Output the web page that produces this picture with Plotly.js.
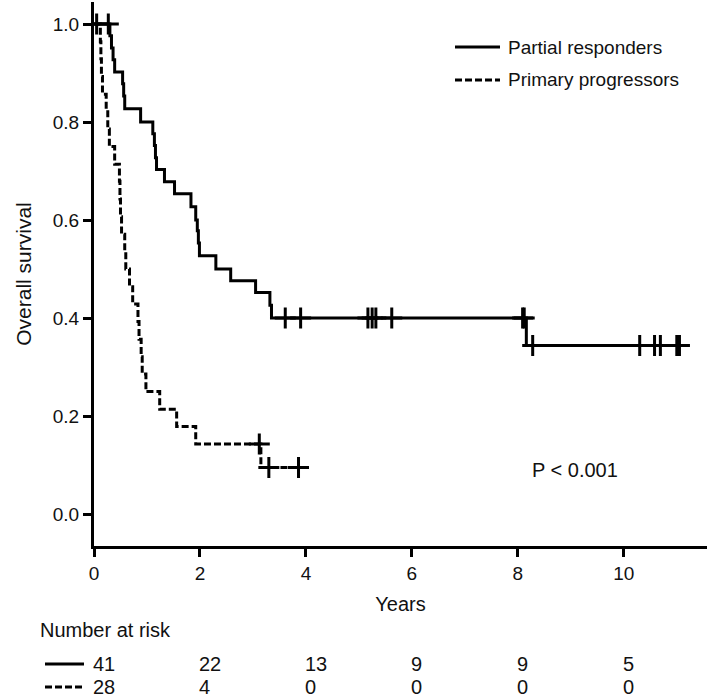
<!DOCTYPE html>
<html>
<head>
<meta charset="utf-8">
<script src="https://cdn.plot.ly/plotly-3.0.1.min.js"></script>
<style>html,body{margin:0;padding:0;background:#fff;}#chart{width:709px;height:698px;}</style>
</head>
<body>
<div id="chart"></div>
<script>
// Partial responders: step times (years) and survival after each step
const prTimes = [0, 0.30, 0.33, 0.36, 0.39, 0.54, 0.56, 0.58, 0.88, 1.11, 1.14, 1.16, 1.18, 1.33, 1.52, 1.83, 1.92, 1.95, 1.97, 1.99, 2.30, 2.58, 3.05, 3.32, 3.35, 8.16, 11.05];
const prSurv  = [1.0, 0.976, 0.951, 0.927, 0.902, 0.878, 0.853, 0.827, 0.800, 0.776, 0.752, 0.727, 0.703, 0.678, 0.654, 0.627, 0.600, 0.578, 0.553, 0.527, 0.500, 0.476, 0.452, 0.426, 0.400, 0.344, 0.344];
const prCensTimes = [0.05, 0.27, 3.61, 3.90, 5.17, 5.25, 5.32, 5.62, 8.09, 8.12, 8.28, 10.30, 10.58, 10.69, 11.00, 11.05];
const prCensSurv  = [1.0, 1.0, 0.400, 0.400, 0.400, 0.400, 0.400, 0.400, 0.400, 0.400, 0.344, 0.344, 0.344, 0.344, 0.344, 0.344];

// Primary progressors
const ppTimes = [0, 0.12, 0.13, 0.14, 0.16, 0.23, 0.26, 0.29, 0.39, 0.48, 0.49, 0.50, 0.52, 0.58, 0.60, 0.67, 0.73, 0.83, 0.85, 0.89, 0.91, 0.98, 1.24, 1.56, 1.92, 3.15, 3.86];
const ppSurv  = [1.0, 0.964, 0.929, 0.893, 0.857, 0.821, 0.786, 0.750, 0.714, 0.679, 0.643, 0.607, 0.571, 0.536, 0.500, 0.464, 0.429, 0.393, 0.357, 0.321, 0.286, 0.250, 0.214, 0.179, 0.143, 0.095, 0.095];
const ppCensTimes = [3.12, 3.30, 3.86];
const ppCensSurv  = [0.143, 0.095, 0.095];

// Number at risk
const riskTimes = [0, 2, 4, 6, 8, 10];
const riskPR = [41, 22, 13, 9, 9, 5];
const riskPP = [28, 4, 0, 0, 0, 0];

const seriesNames = ['Partial responders', 'Primary progressors'];
const yTicks = [0, 0.2, 0.4, 0.6, 0.8, 1.0];
const xTicks = [0, 2, 4, 6, 8, 10];

const FONT = 'Liberation Sans, Arial, sans-serif';
const TXT = '#111';
const DASH = '7px,3px';

const W = 709, H = 698, L = 94, R = 2, T = 2, B = 152;
const plotW = W - L - R, plotH = H - T - B;
function px2paperX(px) { return (px - L) / plotW; }
function px2paperY(py) { return 1 - (py - T) / plotH; }

const censMarker = {symbol: 'cross-thin-open', size: 15, color: '#000', line: {color: '#000', width: 3}};
const traces = [
  {x: prTimes, y: prSurv, mode: 'lines', line: {shape: 'hv', color: '#000', width: 3}, name: seriesNames[0], showlegend: false},
  {x: ppTimes, y: ppSurv, mode: 'lines', line: {shape: 'hv', color: '#000', width: 3, dash: DASH}, name: seriesNames[1], showlegend: false},
  {x: prCensTimes, y: prCensSurv, mode: 'markers', marker: censMarker, showlegend: false, hoverinfo: 'skip'},
  {x: ppCensTimes, y: ppCensSurv, mode: 'markers', marker: censMarker, showlegend: false, hoverinfo: 'skip'}
];

const annotations = [];
const shapes = [];
const rowY = [664, 687];
[riskPR, riskPP].forEach((arr, r) => {
  arr.forEach((v, i) => {
    annotations.push({x: riskTimes[i], xref: 'x', y: px2paperY(rowY[r]), yref: 'paper', text: String(v), showarrow: false, xanchor: 'left', yanchor: 'middle', xshift: -3, font: {family: FONT, size: 20, color: TXT}});
  });
  shapes.push({type: 'line', xref: 'paper', yref: 'paper', x0: px2paperX(45), x1: px2paperX(84), y0: px2paperY(rowY[r]), y1: px2paperY(rowY[r]), line: {color: '#000', width: 3, dash: r ? DASH : 'solid'}});
});
annotations.push({x: px2paperX(38), xref: 'paper', y: px2paperY(630), yref: 'paper', text: 'Number at risk', showarrow: false, xanchor: 'left', yanchor: 'middle', font: {family: FONT, size: 20, color: TXT}});
annotations.push({x: 8.22, xref: 'x', y: 0.09, yref: 'y', text: 'P < 0.001', showarrow: false, xanchor: 'left', yanchor: 'middle', font: {family: FONT, size: 20, color: TXT}});

// legend (drawn manually)
const legY = [47, 80];
seriesNames.forEach((nm, r) => {
  shapes.push({type: 'line', xref: 'paper', yref: 'paper', x0: px2paperX(455), x1: px2paperX(500), y0: px2paperY(legY[r]), y1: px2paperY(legY[r]), line: {color: '#000', width: 3, dash: r ? DASH : 'solid'}});
  annotations.push({x: px2paperX(506), xref: 'paper', y: px2paperY(legY[r]), yref: 'paper', text: nm, showarrow: false, xanchor: 'left', yanchor: 'middle', font: {family: FONT, size: 19, color: TXT}});
});

const layout = {
  width: W, height: H,
  margin: {l: L, r: R, t: T, b: B},
  paper_bgcolor: '#fff', plot_bgcolor: '#fff',
  font: {family: FONT, size: 19, color: TXT},
  showlegend: false,
  xaxis: {range: [0, 11.57], showline: true, linewidth: 3, linecolor: '#000', ticks: 'outside', ticklen: 8, tickwidth: 3, tickcolor: '#000', tickvals: xTicks, ticktext: xTicks.map(String), showgrid: false, zeroline: false,
          title: {text: 'Years', font: {family: FONT, size: 20, color: TXT}, standoff: 15}, tickfont: {family: FONT, size: 19, color: TXT}},
  yaxis: {range: [-0.065, 1.045], showline: true, linewidth: 3, linecolor: '#000', ticks: 'outside', ticklen: 8, tickwidth: 3, tickcolor: '#000', tickvals: yTicks, ticktext: yTicks.map(v => v.toFixed(1)), showgrid: false, zeroline: false,
          title: {text: 'Overall survival', font: {family: FONT, size: 21, color: TXT}, standoff: 16}, tickfont: {family: FONT, size: 19, color: TXT}},
  annotations: annotations,
  shapes: shapes
};

Plotly.newPlot('chart', traces, layout, {displayModeBar: false, staticPlot: true});
</script>
</body>
</html>
